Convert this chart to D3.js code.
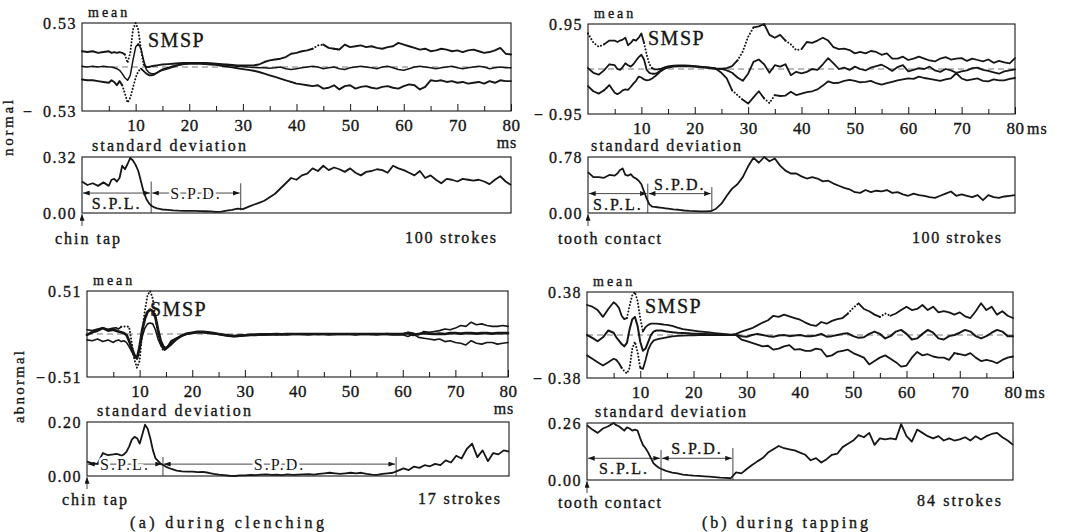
<!DOCTYPE html>
<html>
<head>
<meta charset="utf-8">
<script src="https://cdn.jsdelivr.net/npm/d3@7/dist/d3.min.js"></script>
<style>
  body { margin: 0; background: #fff; }
  svg text { font-family: "Liberation Serif", "DejaVu Serif", serif; fill: #161616; stroke: #161616; stroke-width: 0.35; }
</style>
</head>
<body>
<svg id="fig" width="1070" height="532"></svg>
<script>
// time grid in ms: 1 ms steps, 0.5 ms steps through the SMSP region
const ms = [...d3.range(0, 6), ...d3.range(5.5, 15.5, 0.5), ...d3.range(16, 81)];

// every series below: 0-5 | 5.5-15 | 16-39 | 40-80 ms

// (a) during clenching, normal
const clenchNormUpper = [
  .19, .18, .19, .17, .18, .19,
  .17, .18, .17, .18, .17, .15, .05, .17, .45, .53, .45, .2, .03, 0, 0, .01, .015, .02, .025, .03,
  .035, .04, .045, .048, .05, .05, .05, .048, .045, .04, .035, .03, .025, .02, .02, .02, .02, .03, .06, .08, .09, .1, .12, .16,
  .17, .19, .2, .22, .26, .27, .23, .22, .21, .27, .24, .25, .26, .24, .25, .23, .22, .24, .25, .29, .27, .25, .23, .21, .22, .19, .2, .22, .21, .19, .2, .18, .2, .21, .19, .17, .18, .2, .23, .16, .15];
const clenchNormMean = [
  .01, 0, .01, 0, .01, 0,
  0, -.01, -.02, -.04, -.08, -.13, -.16, -.1, .08, .24, .28, .22, .08, -.03, -.07, -.08, -.08, -.07, -.05, -.04,
  -.02, 0, .02, .035, .045, .045, .045, .04, .04, .035, .03, .02, .015, .01, .005, 0, -.005, -.01, -.01, -.015, -.01, 0, -.02, -.03,
  -.02, -.01, 0, .01, 0, -.02, -.01, 0, -.02, -.03, -.01, 0, .01, 0, -.01, -.02, 0, .01, -.01, -.03, -.04, -.02, 0, .01, 0, -.01, -.02, -.01, 0, .01, -.01, -.02, -.01, 0, .01, 0, -.02, -.01, 0, -.01, -.01];
const clenchNormLower = [
  -.15, -.16, -.16, -.17, -.18, -.19,
  -.16, -.18, -.22, -.17, -.22, -.32, -.43, -.37, -.25, -.13, -.05, -.02, -.05, -.08, -.1, -.1, -.09, -.07, -.05, -.03,
  -.01, .01, .025, .035, .04, .04, .04, .035, .03, .025, .015, .005, -.005, -.015, -.025, -.035, -.045, -.06, -.08, -.1, -.12, -.14, -.16, -.18,
  -.2, -.21, -.22, -.23, -.22, -.26, -.25, -.22, -.27, -.23, -.22, -.26, -.24, -.23, -.25, -.26, -.24, -.23, -.25, -.26, -.23, -.21, -.22, -.27, -.24, -.16, -.17, -.16, -.18, -.17, -.19, -.18, -.2, -.19, -.18, -.2, -.17, -.19, -.16, -.17, -.17];
const clenchNormSd = [
  .18, .16, .17, .155, .175, .155,
  .19, .195, .18, .2, .27, .25, .28, .315, .3, .275, .24, .18, .12, .08, .055, .04, .032, .027, .023, .02,
  .018, .015, .013, .012, .012, .012, .011, .01, .009, .007, .008, .013, .018, .025, .022, .035, .047, .058, .07, .09, .11, .14, .17, .2,
  .19, .215, .225, .255, .24, .27, .245, .26, .25, .235, .255, .23, .215, .235, .24, .25, .245, .23, .27, .255, .245, .23, .215, .24, .2, .215, .19, .17, .195, .19, .18, .195, .19, .185, .19, .18, .165, .19, .21, .18, .16];

// (b) during tapping, normal
const tapNormUpper = [
  .75, .56, .47, .52, .6, .6,
  .57, .6, .62, .66, .5, .55, .62, .6, .66, .75, .55, .3, .1, .02, -.01, -.01, 0, .02, .04, .055,
  .07, .075, .075, .07, .06, .05, .04, .03, .015, .005, .02, .06, .18, .37, .68, .88, .9, .95, .72, .66, .72, .6, .52, .4,
  .42, .57, .55, .6, .66, .6, .46, .42, .43, .4, .33, .36, .33, .38, .36, .3, .33, .22, .22, .26, .19, .22, .26, .22, .18, .16, .22, .25, .2, .22, .23, .17, .22, .19, .16, .2, .13, .17, .14, .12, .23];
const tapNormMean = [
  .02, -.08, -.12, -.03, .1, .08,
  0, -.02, .04, .12, .08, .05, .1, .18, .25, .3, .2, -.02, -.08, -.1, -.1, -.08, -.04, 0, .03, .045,
  .06, .065, .065, .06, .055, .045, .035, .025, .01, 0, -.03, -.08, -.18, -.25, -.1, .15, .2, .1, -.08, .08, .05, .1, -.13, -.06,
  -.09, -.06, 0, -.02, .1, .23, .12, 0, .03, -.02, .05, 0, -.03, .03, .06, .09, .03, -.04, .04, .08, -.05, -.02, .02, 0, .05, -.03, -.06, 0, -.03, -.08, -.05, -.03, .02, .03, -.02, -.04, -.07, -.1, -.05, -.03, -.01];
const tapNormLower = [
  -.36, -.47, -.52, -.45, -.34, -.5,
  -.53, -.5, -.45, -.43, -.44, -.38, -.31, -.25, -.16, -.18, -.22, -.24, -.23, -.2, -.16, -.11, -.06, -.02, .01, .03,
  .05, .055, .06, .055, .05, .04, .03, .02, 0, -.08, -.2, -.45, -.55, -.65, -.73, -.6, -.47, -.62, -.72, -.55, -.57, -.56, -.48, -.55,
  -.52, -.49, -.47, -.43, -.35, -.26, -.3, -.29, -.25, -.23, -.25, -.28, -.27, -.25, -.3, -.33, -.3, -.27, -.24, -.22, -.2, -.21, -.16, -.19, -.21, -.23, -.25, -.22, -.2, -.09, -.2, -.24, -.22, -.2, -.25, -.26, -.22, -.24, -.24, -.21, -.19];
const tapNormSd = [
  .57, .5, .5, .49, .53, .52,
  .55, .6, .62, .53, .52, .54, .5, .48, .45, .4, .3, .2, .12, .09, .085, .08, .075, .07, .065, .06,
  .05, .045, .035, .03, .027, .024, .023, .025, .06, .13, .24, .34, .4, .5, .65, .77, .7, .78, .72, .76, .66, .59, .55, .55,
  .51, .48, .5, .48, .44, .45, .41, .38, .35, .33, .29, .28, .32, .29, .31, .3, .32, .28, .29, .26, .24, .27, .25, .24, .22, .21, .24, .27, .3, .24, .26, .24, .22, .25, .18, .25, .22, .21, .23, .24, .25];

// (a) during clenching, abnormal
const clenchAbnUpper = [
  .05, .04, .06, .075, .055, .07,
  .075, .06, .085, .09, .09, .085, -.1, -.3, -.4, -.32, .03, .28, .46, .51, .42, .2, 0, -.12, -.2, -.18,
  -.08, -.05, -.02, 0, .015, .02, .02, .015, .01, 0, -.01, -.015, -.02, -.015, -.01, -.01, -.005, -.005, -.005, 0, -.005, 0, -.005, 0,
  0, -.005, 0, 0, -.005, 0, 0, -.005, 0, 0, 0, -.005, 0, 0, -.005, 0, 0, .005, 0, 0, 0, .02, .01, -.01, .03, .02, .03, .04, .06, .05, .07, .1, .09, .14, .11, .12, .1, .09, .09, .1, .09];
const clenchAbnMean = [
  -.01, .02, .04, .07, .04, .05,
  .04, .03, .02, .01, -.01, -.08, -.17, -.25, -.29, -.15, .05, .18, .26, .29, .27, .2, .05, -.08, -.15, -.17,
  -.12, -.06, -.02, .005, .015, .025, .025, .02, .01, 0, -.01, -.02, -.025, -.02, -.015, -.01, -.01, -.005, -.005, -.005, 0, -.005, 0, 0,
  0, 0, 0, 0, 0, 0, 0, 0, 0, 0, 0, 0, 0, 0, 0, 0, 0, 0, 0, 0, 0, .01, -.01, 0, .01, .005, 0, .005, 0, .01, .01, .005, .01, .01, .005, .01, .01, .005, .01, .01, .01];
const clenchAbnLower = [
  -.07, -.08, -.06, -.09, -.07, -.1,
  -.08, -.07, -.09, -.08, -.1, -.15, -.21, -.27, -.29, -.18, -.03, .07, .12, .13, .12, .05, -.06, -.13, -.18, -.17,
  -.1, -.05, -.02, 0, .01, .015, .015, .01, .005, -.005, -.015, -.025, -.03, -.025, -.02, -.015, -.01, -.01, -.01, -.005, -.01, -.005, -.01, -.005,
  -.005, -.005, -.01, -.005, -.005, -.005, -.01, -.005, -.005, -.005, -.005, -.01, -.005, -.005, -.005, -.01, -.005, -.005, -.01, -.01, -.01, -.03, 0, -.04, -.05, -.06, -.07, -.06, -.09, -.08, -.1, -.11, -.13, -.08, -.11, -.12, -.1, -.1, -.12, -.11, -.1];
const clenchAbnSd = [
  .053, .047, .045, .085, .077, .08,
  .082, .08, .075, .08, .09, .11, .135, .145, .14, .12, .155, .19, .175, .14, .095, .065, .055, .045, .04, .034,
  .026, .02, .017, .016, .016, .014, .015, .012, .008, .005, .003, .001, 0, .002, .002, .004, .003, .005, .006, .004, .005, .003, .006, .004,
  .005, .006, .007, .005, .008, .01, .012, .01, .008, .01, .012, .01, .012, .008, .005, .004, .008, .01, .012, .02, .028, .022, .035, .03, .04, .036, .045, .04, .058, .05, .075, .065, .1, .12, .07, .095, .055, .085, .08, .095, .09];

// (b) during tapping, abnormal
const tapAbnUpper = [
  .265, .25, .22, .16, .23, .29,
  .27, .24, .17, .14, .15, .26, .35, .38, .3, .15, .03, .07, .09, .1, .1, .1, .098, .095, .092, .09,
  .08, .065, .052, .045, .038, .032, .027, .022, .017, .012, .008, .004, .01, .03, .045, .06, .085, .11, .13, .17, .16, .18, .165, .15,
  .135, .11, .09, .08, .115, .1, .125, .14, .15, .19, .24, .28, .23, .21, .18, .16, .19, .17, .19, .22, .25, .22, .23, .265, .22, .25, .2, .21, .2, .18, .2, .165, .15, .21, .28, .22, .25, .18, .21, .17, .15];
const tapAbnMean = [
  0, -.025, -.055, -.02, .04, .02,
  -.02, -.05, -.08, -.1, -.07, .05, .14, .16, .08, -.06, -.14, -.12, -.06, 0, .03, .04, .04, .04, .035, .03,
  .025, .02, .017, .015, .012, .01, .008, .006, .004, .003, .002, .001, 0, -.01, -.015, 0, .01, 0, -.01, -.015, -.005, 0, -.01, -.005,
  0, -.01, -.01, -.005, .01, -.015, -.01, 0, .01, .015, -.01, -.025, -.02, .01, .03, .01, -.03, -.01, .03, .045, .01, -.04, -.03, .01, .045, .02, -.03, -.04, -.01, 0, .02, .045, .03, -.01, -.03, -.01, .02, .045, .03, -.01, -.01];
const tapAbnLower = [
  -.18, -.21, -.24, -.27, -.24, -.21,
  -.22, -.25, -.29, -.32, -.34, -.29, -.12, -.06, -.15, -.29, -.3, -.22, -.13, -.08, -.05, -.04, -.035, -.03, -.025, -.02,
  -.012, -.008, -.005, -.003, -.002, -.001, 0, 0, 0, 0, 0, 0, 0, -.04, -.055, -.07, -.085, -.1, -.095, -.13, -.12, -.1, -.09, -.13,
  -.125, -.14, -.14, -.12, -.13, -.19, -.18, -.15, -.14, -.13, -.16, -.18, -.2, -.26, -.23, -.2, -.18, -.21, -.24, -.28, -.27, -.2, -.15, -.18, -.17, -.19, -.2, -.2, -.22, -.16, -.17, -.18, -.16, -.2, -.23, -.22, -.23, -.25, -.22, -.2, -.19];
const tapAbnSd = [
  .25, .23, .215, .235, .245, .26,
  .25, .245, .235, .225, .24, .235, .225, .23, .225, .19, .16, .145, .125, .1, .076, .065, .056, .05, .045, .04,
  .034, .03, .025, .022, .02, .019, .017, .015, .013, .011, .01, .008, .035, .03, .05, .068, .085, .1, .125, .14, .155, .145, .14, .135,
  .125, .115, .09, .1, .08, .095, .115, .12, .15, .165, .18, .205, .195, .215, .16, .19, .185, .19, .185, .255, .2, .175, .23, .215, .2, .19, .2, .18, .19, .18, .185, .195, .18, .2, .185, .2, .21, .215, .195, .18, .16];

// silent-period marks (ms) and the level of their arrows (sd units)
const silentPeriods = [
  { spl: 12.9, spd: 29.6, level: 0.114 },
  { spl: 11.2, spd: 23.2, level: 0.27 },
  { spl: 14.4, spd: 58.6, level: 0.044 },
  { spl: 13.9, spd: 27.4, level: 0.099 }
];
const strokeCounts = ["100 strokes", "100 strokes", "17 strokes", "84 strokes"];

const ink = "#161616";
const svg = d3.select("#fig");

svg.append("defs").append("marker")
  .attr("id", "ah").attr("viewBox", "0 0 8 6").attr("refX", 8).attr("refY", 3)
  .attr("markerWidth", 7).attr("markerHeight", 5).attr("markerUnits", "userSpaceOnUse")
  .attr("orient", "auto-start-reverse")
  .append("path").attr("d", "M0,0L8,3L0,6Z").attr("fill", ink);

function label(str, x, y, o = {}) {
  const t = svg.append("text").attr("x", x).attr("y", y).text(str)
    .attr("font-size", o.size || 16).attr("letter-spacing", o.ls ?? 1);
  if (o.anchor) t.attr("text-anchor", o.anchor);
  if (o.len) t.attr("textLength", o.len).attr("lengthAdjust", "spacing");
  if (o.rot) t.attr("transform", `rotate(-90 ${x} ${y})`);
  return t;
}

const fmt = d3.format(".2f");

function meanPanel(p) {
  const x = d3.scaleLinear().domain([0, 80]).range([p.x0, p.x1]);
  const y = d3.scaleLinear().domain([-p.max, p.max]).range([p.y1, p.y0]);
  const g = svg.append("g");

  g.append("line").attr("x1", p.x0).attr("x2", p.x1).attr("y1", y(0)).attr("y2", y(0))
    .attr("stroke", "#555").attr("stroke-width", 0.8).attr("stroke-dasharray", "6,4");

  const xa = g.append("g").attr("transform", `translate(0,${p.y1})`)
    .call(d3.axisBottom(x).tickValues(d3.range(5, 81, 5)).tickSize(-5).tickSizeOuter(0).tickPadding(8)
      .tickFormat(d => d % 10 === 0 ? d : ""));
  xa.attr("font-size", 17);
  xa.select(".domain").remove();
  xa.selectAll(".tick line").attr("stroke", ink).attr("y2", d => d % 10 === 0 ? -7 : -5);
  xa.selectAll(".tick text").attr("letter-spacing", 0.5);

  const ya = g.append("g").attr("transform", `translate(${p.x0},0)`)
    .call(d3.axisLeft(y).tickValues([-p.max, p.max]).tickSize(0).tickPadding(5)
      .tickFormat(d => fmt(Math.abs(d))));
  ya.attr("font-size", 16);
  ya.select(".domain").remove();
  ya.selectAll(".tick text").attr("letter-spacing", 1.5);
  label("\u2212", p.x0 - p.minusGap, y(-p.max) + 5.5, { anchor: "end", ls: 0 });

  const trace = (vals, dots, w) => {
    const pts = vals.map((v, i) => ({ t: ms[i], v }));
    const inside = t => dots.some(([a, b]) => t > a && t < b);
    g.append("path").datum(pts)
      .attr("d", d3.line().defined(d => !inside(d.t)).x(d => x(d.t)).y(d => y(d.v)))
      .attr("fill", "none").attr("stroke", ink).attr("stroke-width", w)
      .attr("stroke-linejoin", "round").attr("stroke-linecap", "round");
    dots.forEach(([a, b]) => {
      g.append("path").datum(pts.filter(d => d.t >= a && d.t <= b))
        .attr("d", d3.line().x(d => x(d.t)).y(d => y(d.v)))
        .attr("fill", "none").attr("stroke", ink).attr("stroke-width", 2)
        .attr("stroke-linecap", "round").attr("stroke-dasharray", "0.1,3.2");
    });
  };
  trace(p.upper, p.dots.upper, p.w[0]);
  trace(p.lower, p.dots.lower, p.w[2]);
  trace(p.mid, [], p.w[1]);

  g.append("rect").attr("x", p.x0).attr("y", p.y0).attr("width", p.x1 - p.x0).attr("height", p.y1 - p.y0)
    .attr("fill", "none").attr("stroke", ink).attr("stroke-width", 1.1);

  label("mean", p.x0 + 6, p.y0 - 6, { size: 14, ls: 3 });
  label("SMSP", p.smsp[0], p.smsp[1], { size: 20, ls: 1.5 });
  if (p.msBelow) label("ms", p.x1 - 4, p.y1 + 37, { anchor: "middle", ls: 1 });
  else label("ms", p.x1 + 12, p.y1 + 20, { ls: 1 });
}

function sdPanel(p, sp, strokes) {
  const x = d3.scaleLinear().domain([0, 80]).range([p.x0, p.x1]);
  const y = d3.scaleLinear().domain([0, p.max]).range([p.y1, p.y0]);
  const g = svg.append("g");

  const ya = g.append("g").attr("transform", `translate(${p.x0},0)`)
    .call(d3.axisLeft(y).tickValues([0, p.max]).tickSize(0).tickPadding(5).tickFormat(fmt));
  ya.attr("font-size", 16);
  ya.select(".domain").remove();
  ya.selectAll(".tick text").attr("letter-spacing", 1.5);

  // silent period marks
  const thin = sel => sel.attr("stroke", ink).attr("stroke-width", 0.8);
  thin(g.append("line").attr("x1", x(sp.spl)).attr("x2", x(sp.spl)).attr("y1", y(0)).attr("y2", y(p.splTop)));
  thin(g.append("line").attr("x1", x(sp.spd)).attr("x2", x(sp.spd)).attr("y1", y(p.spdBot)).attr("y2", y(p.spdTop)));
  [[0, sp.spl], [sp.spl, sp.spd]].forEach(([a, b]) => {
    thin(g.append("line").attr("x1", x(a) + 1).attr("x2", x(b) - 1).attr("y1", y(sp.level)).attr("y2", y(sp.level)))
      .attr("marker-start", "url(#ah)").attr("marker-end", "url(#ah)");
  });

  const pts = p.values.map((v, i) => ({ t: ms[i], v }));
  g.append("path").datum(pts)
    .attr("d", d3.line().x(d => x(d.t)).y(d => y(d.v)))
    .attr("fill", "none").attr("stroke", ink).attr("stroke-width", 1.8).attr("stroke-linejoin", "round");

  const tag = (str, a, b, pos) => {
    const dy = pos === "below" ? 16 : pos === "above" ? -4 : 5.5;
    const t = label(str, (x(a) + x(b)) / 2, y(sp.level) + dy, { anchor: "middle", ls: 2 });
    if (pos === "inline") t.style("stroke", "#fff").style("stroke-width", 5).attr("paint-order", "stroke");
  };
  tag("S.P.L.", 0, sp.spl, p.splPos);
  tag("S.P.D.", sp.spl, sp.spd, p.spdPos);

  g.append("rect").attr("x", p.x0).attr("y", p.y0).attr("width", p.x1 - p.x0).attr("height", p.y1 - p.y0)
    .attr("fill", "none").attr("stroke", ink).attr("stroke-width", 1.1);

  // trigger arrow
  thin(g.append("line").attr("x1", x(0)).attr("x2", x(0)).attr("y1", p.y1 + 13).attr("y2", p.y1 + 1))
    .attr("marker-end", "url(#ah)");

  label("standard deviation", p.title[0], p.y0 - 6, { len: p.title[1], ls: 2 });
  label(p.trigger, p.trig[0], p.trig[1], { len: p.trig[2], ls: 2 });
  label(strokes, p.strk[0], p.strk[1], { len: p.strk[2], ls: 2 });
}

const meanPanels = [
  { x0: 82, x1: 511, y0: 23, y1: 111, max: 0.53, upper: clenchNormUpper, mid: clenchNormMean, lower: clenchNormLower,
    dots: { upper: [[8, 11.5], [43, 45], [47, 48]], lower: [[7.5, 11], [39, 40]] }, w: [1.9, 1.5, 1.9],
    smsp: [148, 47], msBelow: true, minusGap: 50 },
  { x0: 588, x1: 1015, y0: 24, y1: 114, max: 0.95, upper: tapNormUpper, mid: tapNormMean, lower: tapNormLower,
    dots: { upper: [[0, 3], [10.5, 12], [28, 31], [37, 40]], lower: [[3, 4], [27, 29], [33, 35]] }, w: [1.8, 1.8, 1.8],
    smsp: [648, 45], msBelow: false, minusGap: 45 },
  { x0: 87, x1: 508, y0: 291, y1: 377, max: 0.51, upper: clenchAbnUpper, mid: clenchAbnMean, lower: clenchAbnLower,
    dots: { upper: [[6.5, 15]], lower: [] }, w: [1.6, 2.7, 1.6],
    smsp: [150, 316], msBelow: true, minusGap: 42 },
  { x0: 587, x1: 1013, y0: 292, y1: 378, max: 0.38, upper: tapAbnUpper, mid: tapAbnMean, lower: tapAbnLower,
    dots: { upper: [[7.5, 10.5], [49, 51], [55, 57]], lower: [[6.5, 10], [69, 70]] }, w: [1.8, 2, 1.8],
    smsp: [645, 313], msBelow: false, minusGap: 45 }
];

const sdPanels = [
  { x0: 82, x1: 511, y0: 157, y1: 213, max: 0.32, values: clenchNormSd,
    splTop: 0.18, spdTop: 0.17, spdBot: 0.015, splPos: "below", spdPos: "inline",
    title: [92, 156], trigger: "chin tap", trig: [55, 244, 67], strk: [405, 243, 93] },
  { x0: 588, x1: 1015, y0: 157, y1: 213, max: 0.78, values: tapNormSd,
    splTop: 0.41, spdTop: 0.36, spdBot: 0.02, splPos: "below", spdPos: "above",
    title: [591, 152], trigger: "tooth contact", trig: [558, 244, 105], strk: [912, 243, 91] },
  { x0: 87, x1: 509, y0: 422, y1: 476, max: 0.20, values: clenchAbnSd,
    splTop: 0.07, spdTop: 0.07, spdBot: 0, splPos: "inline", spdPos: "inline",
    title: [97, 156], trigger: "chin tap", trig: [62, 505, 67], strk: [418, 504, 84] },
  { x0: 587, x1: 1013, y0: 423, y1: 480, max: 0.26, values: tapAbnSd,
    splTop: 0.137, spdTop: 0.146, spdBot: 0, splPos: "below", spdPos: "above",
    title: [595, 153], trigger: "tooth contact", trig: [558, 508, 105], strk: [917, 506, 86] }
];

meanPanels.forEach(meanPanel);
sdPanels.forEach((p, i) => sdPanel(p, silentPeriods[i], strokeCounts[i]));

label("normal", 13, 127, { anchor: "middle", rot: true, size: 15, len: 58, ls: 2 });
label("abnormal", 24, 386, { anchor: "middle", rot: true, size: 15, len: 74, ls: 2 });
label("(a)  during  clenching", 130, 528, { len: 196, ls: 2 });
label("(b)  during  tapping", 702, 528, { len: 168, ls: 2 });
</script>
</body>
</html>
